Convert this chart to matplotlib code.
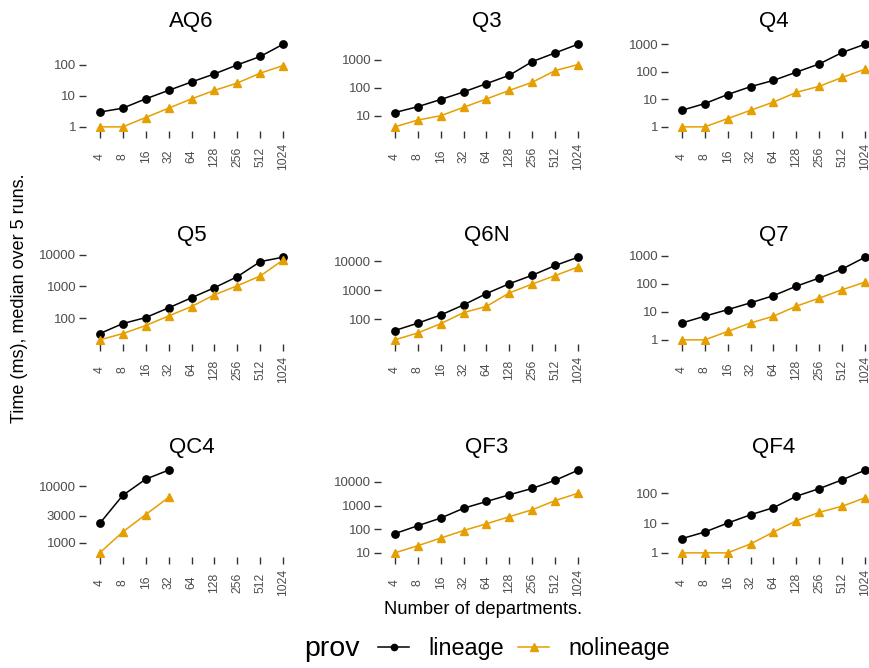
import matplotlib
matplotlib.use("Agg")
import matplotlib.pyplot as plt
from matplotlib.ticker import FixedLocator, FixedFormatter, NullLocator
from matplotlib.lines import Line2D
import numpy as np

plt.rcParams['font.family'] = ['Liberation Sans', 'DejaVu Sans']

# number of departments (x categories)
departments = [4, 8, 16, 32, 64, 128, 256, 512, 1024]
queries = ["AQ6", "Q3", "Q4", "Q5", "Q6N", "Q7", "QC4", "QF3", "QF4"]

# median time in ms
lineage_ms = {
    "AQ6": [3, 4, 8, 15, 28, 51, 100, 186, 465],
    "Q3": [13, 21, 38, 71, 141, 282, 870, 1780, 3650],
    "Q4": [4, 7, 15, 29, 49, 98, 195, 510, 1020],
    "Q5": [33, 68, 105, 212, 440, 910, 2030, 6000, 8300],
    "Q6N": [40, 72, 138, 310, 770, 1690, 3330, 7250, 14100],
    "Q7": [4, 7, 12, 21, 38, 83, 162, 340, 900],
    "QC4": [2200, 6900, 13400, 19400, None, None, None, None, None],
    "QF3": [65, 140, 295, 770, 1490, 2870, 5350, 11800, 31600],
    "QF4": [3, 5, 10, 19, 33, 80, 144, 285, 600],
}
nolineage_ms = {
    "AQ6": [1, 1, 2, 4, 8, 15, 26, 54, 95],
    "Q3": [4, 7, 10, 20, 40, 81, 158, 415, 680],
    "Q4": [1, 1, 2, 4, 8, 18, 30, 63, 126],
    "Q5": [21, 33, 59, 118, 233, 545, 1050, 2130, 6800],
    "Q6N": [19, 33, 69, 167, 277, 810, 1650, 3250, 6450],
    "Q7": [1, 1, 2, 4, 7, 16, 31, 62, 116],
    "QC4": [660, 1550, 3150, 6350, None, None, None, None, None],
    "QF3": [10, 20, 42, 88, 170, 340, 670, 1640, 3350],
    "QF4": [1, 1, 1, 2, 5, 12, 23, 37, 71],
}
y_ticks = {
    "AQ6": [1, 10, 100],
    "Q3": [10, 100, 1000],
    "Q4": [1, 10, 100, 1000],
    "Q5": [100, 1000, 10000],
    "Q6N": [100, 1000, 10000],
    "Q7": [1, 10, 100, 1000],
    "QC4": [1000, 3000, 10000],
    "QF3": [10, 100, 1000, 10000],
    "QF4": [1, 10, 100],
}

COL_LINEAGE = "black"
COL_NOLINEAGE = "#E69F00"

W, H = 870, 668
fig = plt.figure(figsize=(W / 100, H / 100), dpi=100)

# panel geometry in pixels
col_left = [86, 381, 668]
row_top = [40, 253, 466]
pw, ph = 211, 91

x = np.arange(len(departments))
for i, q in enumerate(queries):
    r, c = divmod(i, 3)
    ax = fig.add_axes([col_left[c] / W, 1 - (row_top[r] + ph) / H, pw / W, ph / H])
    lin = np.array([np.nan if v is None else v for v in lineage_ms[q]], dtype=float)
    nol = np.array([np.nan if v is None else v for v in nolineage_ms[q]], dtype=float)
    ax.plot(x, lin, color=COL_LINEAGE, marker='o', markersize=5.3, lw=1.1)
    ax.plot(x, nol, color=COL_NOLINEAGE, marker='^', markersize=6.2, lw=1.1)
    ax.set_yscale('log')

    # limits: 5% expansion in log space, like ggplot
    allv = np.concatenate([lin, nol])
    lo, hi = np.log10(np.nanmin(allv)), np.log10(np.nanmax(allv))
    pad = 0.05 * (hi - lo)
    ax.set_ylim(10 ** (lo - pad), 10 ** (hi + pad))
    ax.set_xlim(-0.6, len(departments) - 0.4)

    ax.yaxis.set_major_locator(FixedLocator(y_ticks[q]))
    ax.yaxis.set_major_formatter(FixedFormatter([str(t) for t in y_ticks[q]]))
    ax.yaxis.set_minor_locator(NullLocator())
    ax.set_xticks(x, [str(d) for d in departments], rotation=90, va='center')

    for s in ax.spines.values():
        s.set_visible(False)
    ax.tick_params(axis='both', length=5, width=1.0, color='#333333',
                   labelcolor='#4D4D4D')
    ax.tick_params(axis='y', pad=2, labelsize=9.5)
    ax.tick_params(axis='x', pad=13.5, labelsize=8.7)
    ax.set_title(q, fontsize=16, pad=9)

fig.text(20 / W, 1 - 298 / H, "Time (ms), median over 5 runs.", rotation=90,
         ha='center', va='center', fontsize=13)
fig.text(483 / W, 1 - 610 / H, "Number of departments.",
         ha='center', va='center', fontsize=13.2)

# legend at the bottom
fig.text(304 / W, 1 - 649 / H, "prov", ha='left', va='center', fontsize=20.5)
handles = [
    Line2D([], [], color=COL_LINEAGE, marker='o', markersize=4.5, lw=1.1),
    Line2D([], [], color=COL_NOLINEAGE, marker='^', markersize=5.5, lw=1.1),
]
fig.legend(handles, ["lineage", "nolineage"], loc='center left',
           bbox_to_anchor=(378 / W, 1 - 649 / H), ncol=2, frameon=False,
           fontsize=16.8, handlelength=1.35, handletextpad=0.8,
           columnspacing=0.6, borderpad=0, borderaxespad=0)

fig.savefig("out.png", dpi=100, facecolor='white')
